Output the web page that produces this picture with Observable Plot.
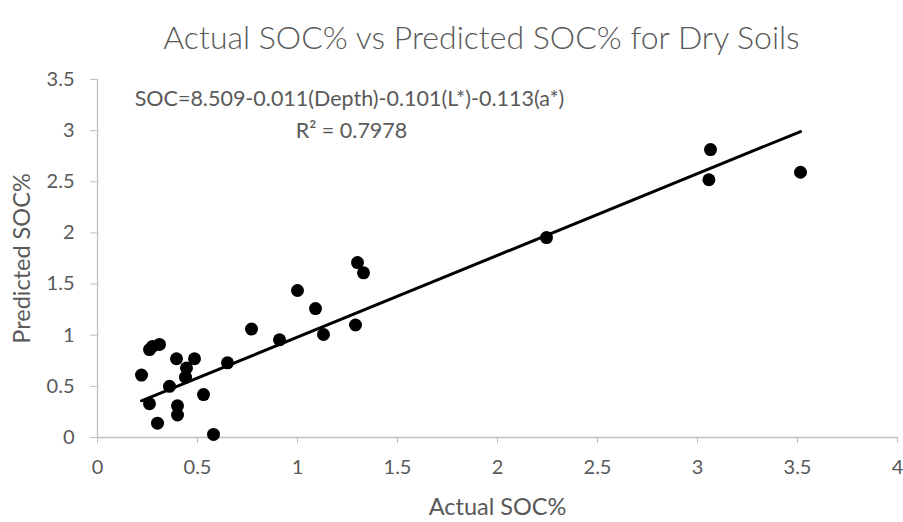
<!DOCTYPE html>
<html>
<head>
<meta charset="utf-8">
<script src="https://cdn.jsdelivr.net/npm/d3@7"></script>
<script src="https://cdn.jsdelivr.net/npm/@observablehq/plot@0.6"></script>
<style>
  html, body { margin: 0; padding: 0; background: #fff; }
  #wrap { width: 903px; height: 522px; font-family: Lato, "Open Sans", sans-serif; overflow: hidden; }
  #title { height: 60px; line-height: 73px; text-align: center; font-size: 32px; font-weight: 300; color: #595959; white-space: nowrap; padding-left: 60px; }
</style>
</head>
<body>
<div id="wrap">
  <div id="title">Actual SOC% vs Predicted SOC% for Dry Soils</div>
  <div id="chart"></div>
</div>
<script>
const actualSOC = [0.22, 0.26, 0.275, 0.31, 0.395, 0.485, 0.445, 0.44, 0.36, 0.26, 0.40, 0.40, 0.53, 0.30, 0.58, 0.65,
                   0.77, 0.91, 1.00, 1.09, 1.13, 1.29, 1.30, 1.33, 2.245, 3.065, 3.057, 3.515];
const predictedSOC = [0.61, 0.86, 0.89, 0.91, 0.77, 0.77, 0.68, 0.59, 0.50, 0.33, 0.31, 0.22, 0.42, 0.14, 0.03, 0.73,
                      1.06, 0.955, 1.437, 1.26, 1.007, 1.10, 1.71, 1.61, 1.955, 2.815, 2.52, 2.593];
// Trendline as drawn in the reference: intercept, slope
const trendIntercept = 0.183;
const trendSlope = 0.799;
const xTicks = [0, 0.5, 1, 1.5, 2, 2.5, 3, 3.5, 4];
const yTicks = [0, 0.5, 1, 1.5, 2, 2.5, 3, 3.5];
const equationText = "SOC=8.509-0.011(Depth)-0.101(L*)-0.113(a*)";
const r2Text = "R² = 0.7978";
const xLabel = "Actual SOC%";
const yLabel = "Predicted SOC%";

const data = actualSOC.map((a, i) => ({actual: a, predicted: predictedSOC[i]}));
const xExtent = d3.extent(actualSOC);
const trend = xExtent.map(x => ({actual: x, predicted: trendIntercept + trendSlope * x}));

const textColor = "#595959";
const axisColor = "#bfbfbf";
const font = "Lato, 'Open Sans', sans-serif";

const chart = Plot.plot({
  width: 903,
  height: 462,
  marginLeft: 97,
  marginRight: 6,
  marginTop: 19,
  marginBottom: 85,
  style: {fontFamily: font, background: "#fff", overflow: "visible"},
  x: {domain: [0, 4], ticks: xTicks},
  y: {domain: [0, 3.5], ticks: yTicks},
  marks: [
    Plot.ruleY([0], {stroke: axisColor, strokeWidth: 1.3}),
    Plot.ruleX([0], {stroke: axisColor, strokeWidth: 1.3}),
    Plot.axisX({ticks: xTicks, tickSize: 6, tickPadding: 16, stroke: axisColor, color: textColor, fontSize: 20, label: null, tickFormat: d => String(d)}),
    Plot.axisY({ticks: yTicks, tickSize: 7, tickPadding: 16, stroke: axisColor, color: textColor, fontSize: 20, label: null, tickFormat: d => String(d)}),
    Plot.line(trend, {x: "actual", y: "predicted", stroke: "#000", strokeWidth: 3}),
    Plot.dot(data, {x: "actual", y: "predicted", r: 6.5, fill: "#000", stroke: "none"}),
    Plot.text([equationText], {frameAnchor: "top-left", dx: 252, dy: 20, textAnchor: "middle", lineAnchor: "middle", fontSize: 21.5, fill: textColor}),
    Plot.text([r2Text], {frameAnchor: "top-left", dx: 254, dy: 52, textAnchor: "middle", lineAnchor: "middle", fontSize: 21.5, fill: textColor}),
    Plot.text([xLabel], {frameAnchor: "bottom", dy: 70, textAnchor: "middle", lineAnchor: "middle", fontSize: 23.5, fill: textColor}),
    Plot.text([yLabel], {frameAnchor: "left", dx: -75, rotate: -90, textAnchor: "middle", lineAnchor: "middle", fontSize: 23.5, fill: textColor})
  ]
});
document.getElementById("chart").appendChild(chart);
</script>
</body>
</html>
